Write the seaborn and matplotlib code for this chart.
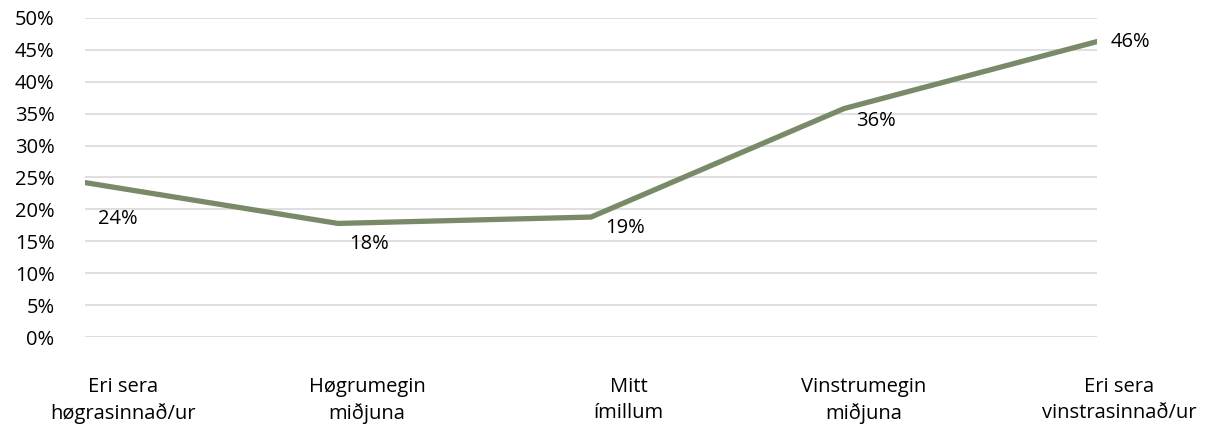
import pandas as pd
import matplotlib.pyplot as plt
import matplotlib.transforms as mtransforms
import seaborn as sns

# ----------------------------------------------------------
# Data
# ----------------------------------------------------------
categories = [
    "Eri sera\nhøgrasinnað/ur",
    "Høgrumegin\nmiðjuna",
    "Mitt\nímillum",
    "Vinstrumegin\nmiðjuna",
    "Eri sera\nvinstrasinnað/ur",
]
shares = [24.2, 17.8, 18.8, 35.8, 46.3]
value_labels = ["24%", "18%", "19%", "36%", "46%"]
y_ticks = [0, 5, 10, 15, 20, 25, 30, 35, 40, 45, 50]

# placement only: value label offsets (points) and category label shifts (px)
label_offsets = [(9, -26), (8, -15), (10, -8), (9, -9), (10, 0)]
tick_shift_px = [38, 29, 38, 20, 22]

df = pd.DataFrame({"category": categories, "share": shares})

sns.set_style("white")
plt.rcParams["font.family"] = ["Open Sans", "DejaVu Sans"]

fig = plt.figure(figsize=(12.08, 4.28), dpi=100)
ax = fig.add_axes([0.0704, 0.2126, 0.8377, 0.7454])

sns.lineplot(data=df, x="category", y="share", color="#788a68",
             linewidth=3.8, ax=ax, sort=False)

fs = 14.5
ax.set_ylim(0, 50)
ax.set_xlim(0, len(categories) - 1)
ax.set_yticks(y_ticks)
ax.set_yticklabels([f"{t}%" for t in y_ticks], fontsize=fs, color="#000000")
ax.set_xticks(range(len(categories)))
ax.set_xticklabels(categories, fontsize=fs, color="#000000", linespacing=1.38)
ax.tick_params(axis="y", length=0, pad=22)
ax.tick_params(axis="x", length=0, pad=29)

for lbl, sh in zip(ax.get_xticklabels(), tick_shift_px):
    lbl.set_transform(lbl.get_transform() +
                      mtransforms.ScaledTranslation(sh / 100, 0, fig.dpi_scale_trans))

ax.yaxis.grid(True, color="#d9d9d9", linewidth=1.2)
ax.set_axisbelow(True)
for s in ax.spines.values():
    s.set_visible(False)

ax.set_xlabel("")
ax.set_ylabel("")

for i, (val, lab) in enumerate(zip(shares, value_labels)):
    dx, dy = label_offsets[i]
    ax.annotate(lab, (i, val), xytext=(dx, dy), textcoords="offset points",
                ha="left", va="center", fontsize=fs, color="#000000",
                annotation_clip=False)

fig.savefig("out.png", dpi=100)
